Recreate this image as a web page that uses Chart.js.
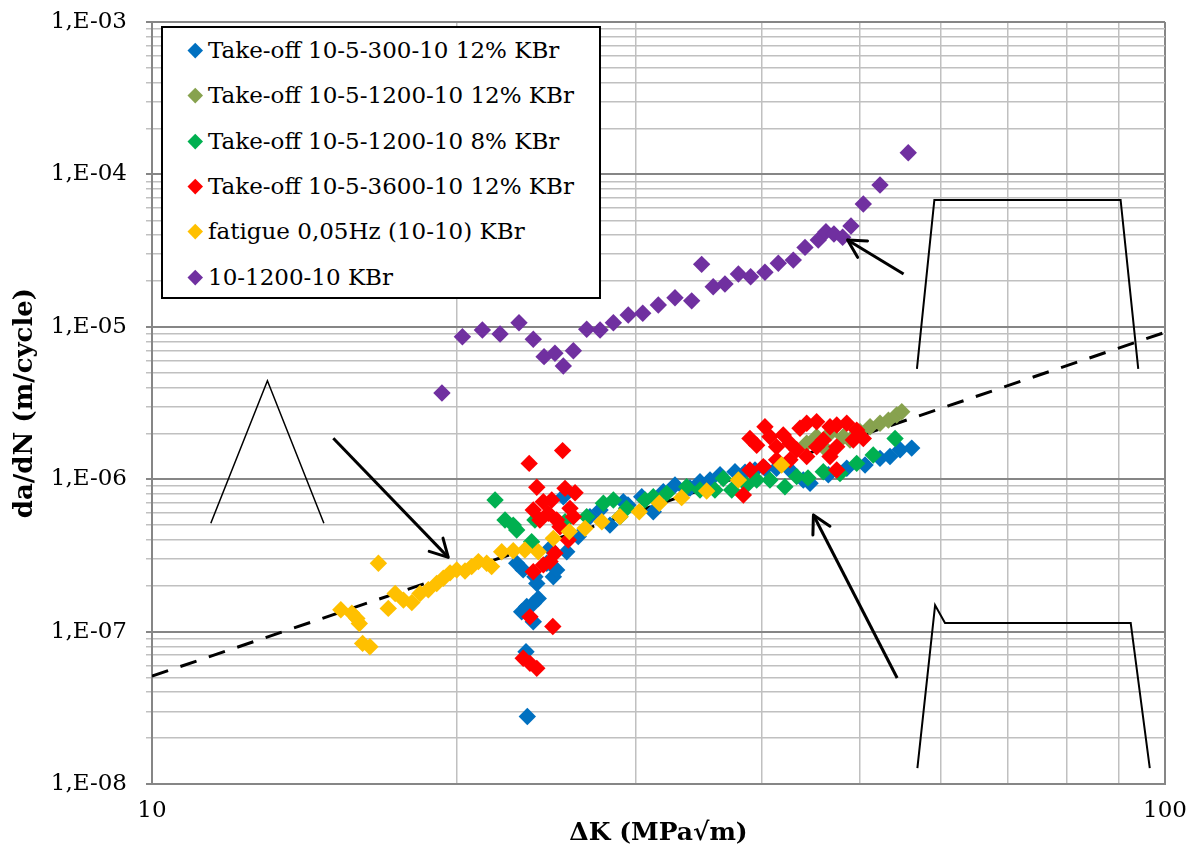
<!DOCTYPE html>
<html>
<head>
<meta charset="utf-8">
<title>da/dN vs ΔK</title>
<script src="https://cdn.jsdelivr.net/npm/chart.js@4.4.1/dist/chart.umd.min.js"></script>
<style>
  html, body { margin: 0; padding: 0; background: #fff; }
  .wrap { position: relative; width: 1193px; height: 849px; }
  .legend { position: absolute; left: 161px; top: 26px; width: 440px; height: 273px; box-sizing: border-box;
            border: 2px solid #000; background: #fff; font-family: 'DejaVu Serif', serif; font-size: 23px; color: #000; }
  .legend .row { position: absolute; left: 0; height: 32px; line-height: 32px; white-space: nowrap; }
  .legend .mark { position: absolute; left: 27px; top: 11px; width: 10.5px; height: 10.5px; transform: rotate(45deg); }
  .legend .txt { position: absolute; left: 45px; top: 0; }
</style>
</head>
<body>
<div class="wrap">
  <canvas id="crack" width="1193" height="849"></canvas>
  <div class="legend" id="legend"></div>
</div>
<script>
// series: Take-off 10-5-300-10 12% KBr
const blueX = [22.91,23.25,23.17,23.44,23.40,23.47,23.79,23.79,23.88,23.98,24.06,24.53,24.71,24.90,25.09,25.47,25.67,26.35,27.06,27.69,
  28.32,29.19,29.50,30.44,31.25,31.97,32.83,33.66,33.97,34.75,35.55,36.37,37.63,38.50,39.38,40.28,41.36,42.64,43.95,44.63,
  46.52,48.51,50.57,52.32,53.52,54.76,56.23];
const blueY = [2.81e-7,2.54e-7,1.35e-7,1.46e-7,7.38e-8,2.77e-8,1.53e-7,1.16e-7,2.29e-7,2.07e-7,1.65e-7,2.81e-7,3.52e-7,2.29e-7,2.54e-7,7.67e-7,3.34e-7,4.20e-7,5.68e-7,6.28e-7,
  5.00e-7,7.11e-7,6.78e-7,7.67e-7,6.12e-7,8.28e-7,9.16e-7,8.49e-7,8.75e-7,9.64e-7,9.88e-7,1.07e-6,1.12e-6,1.11e-6,1.15e-6,1.18e-6,1.18e-6,1.15e-6,9.88e-7,9.40e-7,
  1.07e-6,1.18e-6,1.24e-6,1.37e-6,1.41e-6,1.56e-6,1.60e-6];

// Take-off 10-5-1200-10 12% KBr
const oliveX = [44.29,45.30,45.99,46.70,48.13,48.87,50.00,51.15,52.32,53.33,54.34,54.97];
const oliveY = [1.72e-6,1.90e-6,1.63e-6,2.00e-6,1.90e-6,1.81e-6,2.05e-6,2.21e-6,2.33e-6,2.44e-6,2.64e-6,2.77e-6];

// Take-off 10-5-1200-10 8% KBr
const greenX = [21.81,22.31,22.73,22.91,23.70,23.88,25.57,26.86,27.90,28.54,28.97,29.41,30.67,31.25,32.22,33.71,34.75,35.95,36.64,37.35,
  38.65,39.53,40.74,42.15,43.29,44.42,45.99,47.77,49.62,51.52,54.14];
const greenY = [7.31e-7,5.40e-7,5.00e-7,4.64e-7,3.89e-7,5.40e-7,5.26e-7,5.68e-7,6.95e-7,7.31e-7,5.68e-7,6.44e-7,7.31e-7,7.67e-7,8.07e-7,8.93e-7,8.49e-7,8.49e-7,1.01e-6,8.49e-7,
  9.16e-7,9.88e-7,9.88e-7,8.93e-7,1.04e-6,1.02e-6,1.12e-6,1.09e-6,1.27e-6,1.44e-6,1.85e-6];

// Take-off 10-5-3600-10 12% KBr
const redX = [23.25,23.57,23.61,23.61,23.79,23.79,23.98,23.98,24.15,24.34,24.34,24.62,24.71,24.81,24.87,24.99,25.09,25.28,25.43,25.57,
  25.76,25.86,26.06,26.16,38.35,38.93,38.93,39.53,40.13,40.28,40.74,41.36,41.36,41.99,42.64,42.64,43.29,43.62,44.29,44.29,
  45.30,45.30,45.99,46.70,46.70,47.42,47.42,47.42,48.51,49.24,49.62,50.37];
const redY = [6.68e-8,1.27e-6,1.25e-7,6.19e-8,6.28e-7,2.47e-7,8.85e-7,5.74e-8,5.40e-7,7.11e-7,2.74e-7,5.97e-7,2.88e-7,7.31e-7,1.08e-7,3.27e-7,5.40e-7,4.88e-7,1.54e-6,8.71e-7,
  3.99e-7,6.44e-7,5.68e-7,8.15e-7,7.87e-7,1.85e-6,1.15e-6,1.67e-6,1.21e-6,2.21e-6,1.90e-6,1.63e-6,1.34e-6,1.95e-6,1.72e-6,1.34e-6,1.56e-6,2.16e-6,2.33e-6,1.41e-6,
  2.38e-6,1.63e-6,1.81e-6,2.21e-6,1.41e-6,2.27e-6,1.63e-6,1.15e-6,2.33e-6,1.81e-6,2.10e-6,1.85e-6];

// fatigue 0,05Hz (10-10) KBr
const fatigueX = [15.36,15.75,15.93,16.02,16.14,16.41,16.73,17.11,17.38,17.71,18.05,18.39,18.74,19.10,19.39,19.69,19.99,20.37,20.68,21.00,
  21.40,21.64,22.14,22.73,23.34,24.06,24.90,25.82,26.76,27.80,28.97,30.27,31.68,33.33,35.28,37.92,41.83];
const fatigueY = [1.39e-7,1.32e-7,1.22e-7,1.13e-7,8.37e-8,7.96e-8,2.81e-7,1.42e-7,1.78e-7,1.61e-7,1.55e-7,1.78e-7,1.88e-7,2.07e-7,2.24e-7,2.43e-7,2.54e-7,2.50e-7,2.67e-7,2.88e-7,
  2.81e-7,2.67e-7,3.34e-7,3.39e-7,3.43e-7,3.34e-7,4.09e-7,4.53e-7,4.76e-7,5.26e-7,5.68e-7,6.12e-7,6.95e-7,7.57e-7,8.37e-7,9.88e-7,1.24e-6];

// 10-1200-10 KBr
const holdX = [19.33,20.25,21.19,22.06,23.03,23.79,24.38,24.99,25.47,26.06,26.86,27.69,28.54,29.52,30.51,31.61,32.83,34.10,34.88,35.81,
  36.78,37.92,38.99,40.28,41.52,42.96,44.12,45.47,46.27,47.12,48.06,48.98,50.37,52.32,55.79];
const holdY = [3.68e-6,8.61e-6,9.53e-6,8.97e-6,1.064e-5,8.28e-6,6.37e-6,6.70e-6,5.53e-6,6.97e-6,9.63e-6,9.53e-6,1.064e-5,1.195e-5,1.227e-5,1.39e-5,1.55e-5,1.48e-5,2.57e-5,1.83e-5,
  1.91e-5,2.22e-5,2.13e-5,2.28e-5,2.61e-5,2.74e-5,3.32e-5,3.71e-5,4.21e-5,4.06e-5,3.87e-5,4.59e-5,6.39e-5,8.52e-5,1.388e-4];

// dashed power-law guide
const trendX = [10, 100];
const trendY = [5.1e-8, 9.2e-6];

// load waveform sketches and arrows (data coordinates)
const triangleX = [11.43, 13.0, 14.78];
const triangleY = [5.14e-7, 4.43e-6, 5.14e-7];
const holdWaveX = [56.9, 59.2, 90.4, 94.1];
const holdWaveY = [5.3e-6, 6.8e-5, 6.8e-5, 5.3e-6];
const takeoffWaveX = [56.96, 59.3, 60.65, 92.5, 96.6];
const takeoffWaveY = [1.27e-8, 1.49e-7, 1.14e-7, 1.14e-7, 1.27e-8];
const arrowFatigueX = [15.10, 19.61];
const arrowFatigueY = [1.855e-6, 3.07e-7];
const arrowHoldX = [55.2, 48.6];
const arrowHoldY = [2.22e-5, 3.71e-5];
const arrowTakeoffX = [54.4, 44.97];
const arrowTakeoffY = [4.96e-8, 5.82e-7];

const xTickValues = [10, 100];
const xTickLabels = ['10', '100'];
const yDecades = [1e-8, 1e-7, 1e-6, 1e-5, 1e-4, 1e-3];
const yDecadeLabels = ['1,E-08', '1,E-07', '1,E-06', '1,E-05', '1,E-04', '1,E-03'];

const pts = (xs, ys) => xs.map((x, i) => ({ x: x, y: ys[i] }));

const series = [
  { label: 'Take-off 10-5-300-10 12% KBr', xs: blueX, ys: blueY, color: '#0070C0' },
  { label: 'Take-off 10-5-1200-10 12% KBr', xs: oliveX, ys: oliveY, color: '#87A24E' },
  { label: 'Take-off 10-5-1200-10 8% KBr', xs: greenX, ys: greenY, color: '#00B050' },
  { label: 'Take-off 10-5-3600-10 12% KBr', xs: redX, ys: redY, color: '#FF0000' },
  { label: 'fatigue 0,05Hz (10-10) KBr', xs: fatigueX, ys: fatigueY, color: '#FFC000' },
  { label: '10-1200-10 KBr', xs: holdX, ys: holdY, color: '#7030A0' }
];

const scatterSets = series.map((s, i) => ({
  label: s.label,
  data: pts(s.xs, s.ys),
  backgroundColor: s.color,
  pointStyle: 'rectRot',
  pointRadius: 8.7,
  pointBorderWidth: 0,
  order: series.length - i
}));

const sketch = (xs, ys, width, extra) => Object.assign({
  type: 'line',
  data: pts(xs, ys),
  borderColor: '#000',
  borderWidth: width,
  pointRadius: 0,
  fill: false,
  tension: 0,
  order: 0
}, extra || {});

const lineSets = [
  sketch(trendX, trendY, 3, { borderDash: [17, 13], order: 20 }),
  sketch(triangleX, triangleY, 1.5),
  sketch(holdWaveX, holdWaveY, 2),
  sketch(takeoffWaveX, takeoffWaveY, 2),
  sketch(arrowFatigueX, arrowFatigueY, 3, { arrow: true }),
  sketch(arrowHoldX, arrowHoldY, 3, { arrow: true }),
  sketch(arrowTakeoffX, arrowTakeoffY, 3, { arrow: true })
];

const isDecade = v => Math.abs(Math.log10(v) - Math.round(Math.log10(v))) < 1e-6;

// open V heads on the arrow sketches
const arrowHeads = {
  id: 'arrowHeads',
  afterDatasetsDraw(chart) {
    const ctx = chart.ctx;
    chart.data.datasets.forEach((ds, i) => {
      if (!ds.arrow) return;
      const el = chart.getDatasetMeta(i).data;
      const a = el[el.length - 2], b = el[el.length - 1];
      const ang = Math.atan2(b.y - a.y, b.x - a.x);
      ctx.save();
      ctx.strokeStyle = '#000';
      ctx.lineWidth = ds.borderWidth;
      ctx.lineCap = 'round';
      ctx.beginPath();
      [-0.5, 0.5].forEach(d => {
        ctx.moveTo(b.x, b.y);
        ctx.lineTo(b.x - 20 * Math.cos(ang + d), b.y - 20 * Math.sin(ang + d));
      });
      ctx.stroke();
      ctx.restore();
    });
  }
};

Chart.defaults.font.family = "'DejaVu Serif', serif";
Chart.defaults.color = '#000';

const gridColor = ctx => (ctx.tick && isDecade(ctx.tick.value)) ? '#868686' : '#c0c0c0';
const gridWidth = ctx => (ctx.tick && isDecade(ctx.tick.value)) ? 2 : 1.5;

const chart = new Chart(document.getElementById('crack'), {
  type: 'scatter',
  data: { datasets: scatterSets.concat(lineSets) },
  options: {
    responsive: false,
    animation: false,
    events: [],
    layout: { padding: { top: 22, right: 28, bottom: 0, left: 0 } },
    plugins: { legend: { display: false }, tooltip: { enabled: false } },
    scales: {
      x: {
        type: 'logarithmic',
        min: 10,
        max: 100,
        afterBuildTicks: scale => {
          const t = [];
          for (let v = 10; v <= 100; v += 10) t.push({ value: v });
          scale.ticks = t;
        },
        afterFit: scale => {
          scale.height = 65;
          scale.paddingLeft = 0;
          scale.paddingRight = 0;
        },
        grid: { color: gridColor, lineWidth: gridWidth, drawTicks: false },
        border: { color: '#868686', width: 2 },
        ticks: {
          autoSkip: false,
          maxRotation: 0,
          padding: 13,
          font: { size: 23 },
          callback: v => {
            const k = xTickValues.indexOf(Math.round(v));
            return k >= 0 ? xTickLabels[k] : '';
          }
        },
        title: { display: true, text: 'ΔK (MPa√m)', font: { size: 25, weight: 'bold' }, padding: { top: 0, bottom: 1 } }
      },
      y: {
        type: 'logarithmic',
        min: 1e-8,
        max: 1e-3,
        afterBuildTicks: scale => {
          const t = [];
          yDecades.forEach(d => {
            if (d >= 1e-3) { t.push({ value: d }); return; }
            for (let m = 1; m <= 9; m++) t.push({ value: Number((m * d).toPrecision(3)) });
          });
          scale.ticks = t;
        },
        afterFit: scale => {
          scale.width = 152;
          scale.paddingTop = 0;
          scale.paddingBottom = 0;
        },
        grid: { color: gridColor, lineWidth: gridWidth, tickLength: 6 },
        border: { color: '#868686', width: 2 },
        ticks: {
          autoSkip: false,
          padding: 19,
          font: { size: 23 },
          callback: v => {
            const k = yDecades.findIndex(d => Math.abs(d - v) / d < 1e-6);
            return k >= 0 ? yDecadeLabels[k] : '';
          }
        },
        title: { display: true, text: 'da/dN (m/cycle)', font: { size: 26, weight: 'bold' }, padding: { top: 10, bottom: 0 } }
      }
    }
  },
  plugins: [arrowHeads]
});

// legend box drawn inside the plot, as in the original
const legendBox = document.getElementById('legend');
series.forEach((s, i) => {
  const row = document.createElement('div');
  row.className = 'row';
  row.style.top = (6 + i * 45.3) + 'px';
  const mark = document.createElement('span');
  mark.className = 'mark';
  mark.style.background = s.color;
  const txt = document.createElement('span');
  txt.className = 'txt';
  txt.textContent = s.label;
  row.appendChild(mark);
  row.appendChild(txt);
  legendBox.appendChild(row);
});
</script>
</body>
</html>
